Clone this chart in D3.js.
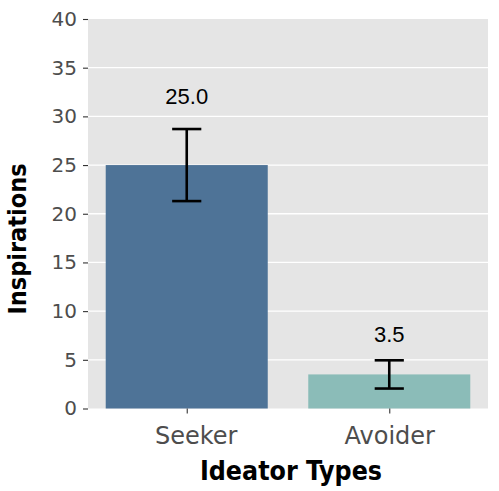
<!DOCTYPE html>
<html lang="en">
<head>
<meta charset="utf-8">
<title>Inspirations by ideator type</title>
<script src="https://d3js.org/d3.v7.min.js"></script>
<style>
  body { margin: 0; background: #fff; }
  svg { display: block; }
</style>
</head>
<body>
<svg id="chart" width="499" height="491"></svg>
<script>
// values
var types = ["Seeker", "Avoider"];
var means = [25.0, 3.5];
var errs = [3.7, 1.45];
var labelY = [31.3, 6.8];
var yTicks = [0, 5, 10, 15, 20, 25, 30, 35, 40];
var barColors = ["#4e7397", "#8bbcb8"];

var rows = types.map(function(t, i) {
  return { type: t, mean: means[i], err: errs[i], ly: labelY[i], color: barColors[i] };
});

var svg = d3.select("#chart");
// panel edges (note: "top" is reserved on window, so use pTop etc.)
var pLeft = 88, pRight = 488, pTop = 19, pBottom = 408.5;

var y = d3.scaleLinear().domain([0, 40]).range([pBottom, pTop]);
var x = d3.scalePoint().domain(types).range([pLeft, pRight]).padding(0.4875);
var barW = x.step() * 0.8;
var capHalf = x.step() * 0.072;

// panel
svg.append("rect")
  .attr("x", pLeft).attr("y", pTop)
  .attr("width", pRight - pLeft).attr("height", pBottom - pTop)
  .attr("fill", "#e5e5e5");

// grid lines
svg.selectAll(".grid").data(yTicks.filter(function(d){ return d > 0 && d < 40 }))
  .enter().append("line")
  .attr("x1", pLeft).attr("x2", pRight)
  .attr("y1", function(d){ return y(d) }).attr("y2", function(d){ return y(d) })
  .attr("stroke", "#fff").attr("stroke-width", 1.3);

// bars
svg.selectAll(".bar").data(rows).enter().append("rect")
  .attr("x", function(d){ return x(d.type) - barW / 2 })
  .attr("y", function(d){ return y(d.mean) })
  .attr("width", barW)
  .attr("height", function(d){ return y(0) - y(d.mean) })
  .attr("fill", function(d){ return d.color });

// error bars
var eb = svg.selectAll(".eb").data(rows).enter().append("g")
  .attr("stroke", "#000").attr("stroke-width", 2.6).attr("fill", "none");
eb.append("line")
  .attr("x1", function(d){ return x(d.type) }).attr("x2", function(d){ return x(d.type) })
  .attr("y1", function(d){ return y(d.mean + d.err) }).attr("y2", function(d){ return y(d.mean - d.err) });
eb.append("line")
  .attr("x1", function(d){ return x(d.type) - capHalf }).attr("x2", function(d){ return x(d.type) + capHalf })
  .attr("y1", function(d){ return y(d.mean + d.err) }).attr("y2", function(d){ return y(d.mean + d.err) });
eb.append("line")
  .attr("x1", function(d){ return x(d.type) - capHalf }).attr("x2", function(d){ return x(d.type) + capHalf })
  .attr("y1", function(d){ return y(d.mean - d.err) }).attr("y2", function(d){ return y(d.mean - d.err) });

// value labels
svg.selectAll(".lbl").data(rows).enter().append("text")
  .attr("x", function(d){ return x(d.type) })
  .attr("y", function(d){ return y(d.ly) })
  .attr("text-anchor", "middle")
  .attr("font-family", "Liberation Sans, Arial, sans-serif")
  .attr("font-size", "22px")
  .attr("fill", "#000")
  .text(function(d){ return d.mean.toFixed(1) });

// y axis
var yAxis = svg.append("g")
  .attr("transform", "translate(" + pLeft + ",0)")
  .call(d3.axisLeft(y).tickValues(yTicks).tickSize(5).tickPadding(6));
yAxis.select(".domain").remove();
yAxis.selectAll(".tick line").attr("stroke", "#333").attr("stroke-width", 1.1);
yAxis.selectAll(".tick text")
  .attr("font-family", "DejaVu Sans, sans-serif")
  .attr("font-size", "20px")
  .attr("fill", "#4d4d4d");

// x axis
var xAxis = svg.append("g")
  .attr("transform", "translate(0," + pBottom + ")")
  .call(d3.axisBottom(x).tickSize(5).tickPadding(13));
xAxis.select(".domain").remove();
xAxis.selectAll(".tick line").attr("stroke", "#333").attr("stroke-width", 1.1);
xAxis.selectAll(".tick text")
  .attr("font-family", "DejaVu Sans, sans-serif")
  .attr("font-size", "24px")
  .attr("fill", "#4d4d4d")
  .attr("dx", function(d, i){ return i == 0 ? 9 : 0 });

// axis titles
svg.append("text")
  .attr("x", 291).attr("y", 480)
  .attr("text-anchor", "middle")
  .attr("font-family", "DejaVu Sans Condensed, DejaVu Sans, sans-serif")
  .attr("font-stretch", "condensed")
  .attr("font-weight", "bold")
  .attr("font-size", "26.5px")
  .text("Ideator Types");

svg.append("text")
  .attr("transform", "translate(26,239) rotate(-90)")
  .attr("text-anchor", "middle")
  .attr("font-family", "DejaVu Sans Condensed, DejaVu Sans, sans-serif")
  .attr("font-stretch", "condensed")
  .attr("font-weight", "bold")
  .attr("font-size", "25px")
  .text("Inspirations");
</script>
</body>
</html>
